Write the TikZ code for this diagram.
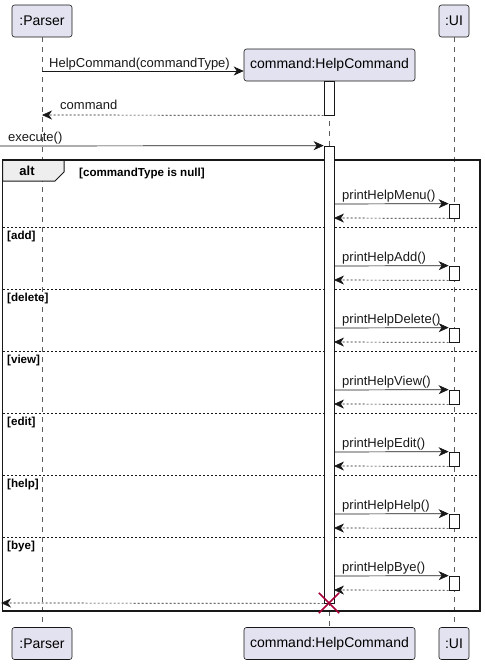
\documentclass[tikz,border=0pt]{standalone}
\usepackage{fontspec}
\setmainfont{Liberation Sans}
\usetikzlibrary{arrows.meta}
\definecolor{pfill}{HTML}{E2E2F0}
\definecolor{ink}{HTML}{181818}
\definecolor{xred}{HTML}{A80036}
\definecolor{tabfill}{HTML}{EEEEEE}
\begin{document}
\begin{tikzpicture}[x=1pt,y=-1pt,
  part/.style={draw=ink, fill=pfill, rounded corners=2.5pt, line width=0.6pt,
    minimum height=32pt, inner sep=0pt, font=\fontsize{14}{16}\selectfont},
  lifeline/.style={draw=ink!70, line width=0.5pt, dash pattern=on 5pt off 5pt},
  actbox/.style={draw=ink, fill=white, line width=0.7pt},
  callarrow/.style={draw=ink, line width=0.7pt, -{Stealth[length=10pt,width=9pt,inset=3pt]}},
  retarrow/.style={draw=ink, line width=0.7pt, dash pattern=on 2pt off 2pt, -{Stealth[length=10pt,width=9pt,inset=3pt]}},
  msg/.style={font=\fontsize{13}{15}\selectfont, anchor=base west, inner sep=0pt, text=ink},
  guard/.style={font=\bfseries\fontsize{11.6}{13}\selectfont, anchor=base west, inner sep=0pt, text=black},
  sep/.style={draw=ink, line width=0.7pt, dash pattern=on 2pt off 2pt}
]
\useasboundingbox (0,0) rectangle (485,665);

% participants
\node[part, minimum width=60pt] (pt) at (42,21) {:Parser};
\node[part, minimum width=171pt] (ct) at (329.5,65) {command:HelpCommand};
\node[part, minimum width=30pt] (ut) at (454,21) {:UI};
\node[part, minimum width=60pt] (pb) at (42,643.5) {:Parser};
\node[part, minimum width=171pt] (cb) at (329.5,643.5) {command:HelpCommand};
\node[part, minimum width=30pt] (ub) at (454,643.5) {:UI};

% lifelines
\draw[lifeline] (pt.south) -- (pb.north);
\draw[lifeline] (ut.south) -- (ub.north);
\draw[lifeline] (ct.south) -- (cb.north);

% frame
\draw[draw=ink, line width=1.5pt] (2.5,160) rectangle (480,611);
\draw[draw=ink, line width=1pt, fill=tabfill] (2.5,160) -- (64,160) -- (64,172) -- (55,181) -- (2.5,181) -- cycle;
\draw[draw=ink, line width=1.5pt] (2.5,160) -- (480,160);
\node[font=\bfseries\fontsize{13}{15}\selectfont, inner sep=0pt] (altlbl) at (27,171) {alt};
\node[guard] (g0) at (79,176) {[commandType is null]};

% separators
\foreach \y/\lbl [count=\i] in {227/add,289/delete,351/view,413/edit,475/help,537/bye}{
  \coordinate (sl\i) at (3,\y);
  \coordinate (sr\i) at (479,\y);
  \draw[sep] (sl\i) -- (sr\i);
  \node[guard] (g\i) at (7,\y+12) {[\lbl]};
}

% activations
\node[actbox, minimum width=10pt, minimum height=34pt, inner sep=0pt] (a1) at (329,98) {};
\node[actbox, minimum width=10pt, minimum height=457pt, inner sep=0pt] (a2) at (329,374.5) {};

% creation and return
\coordinate (p1) at (42,71);
\draw[callarrow] (p1) -- (ct.west |- p1);
\node[msg] (m1) at (49,67) {HelpCommand(commandType)};
\coordinate (p2) at (42,115);
\draw[retarrow] (a1.south west) -- (p2);
\node[msg] (m2) at (60,109) {command};

% execute
\coordinate (e0) at (0,146);
\draw[callarrow] (e0) -- (a2.north west);
\node[msg] (m3) at (8,141) {execute()};

% calls to UI
\foreach \yc/\name [count=\i] in {204/printHelpMenu(),266/printHelpAdd(),328/printHelpDelete(),390/printHelpView(),452/printHelpEdit(),514/printHelpHelp(),576/printHelpBye()}{
  \node[actbox, minimum width=10pt, minimum height=14pt, inner sep=0pt] (u\i) at (454,\yc+7) {};
  \coordinate (c\i) at (334,\yc);
  \coordinate (r\i) at (334,\yc+14);
  \draw[callarrow] (c\i) -- (u\i.north west);
  \draw[retarrow] (u\i.south west) -- (r\i);
  \node[msg] (n\i) at (342,\yc-5) {\name};
}

% final return and destroy
\coordinate (fend) at (1,603);
\draw[retarrow] (a2.south west) -- (fend);
\node[draw=none, inner sep=0pt, minimum size=20pt] (xd) at (329,603) {};
\draw[draw=xred, line width=1.5pt] (xd.north west) -- (xd.south east) (xd.north east) -- (xd.south west);
\end{tikzpicture}
\end{document}
